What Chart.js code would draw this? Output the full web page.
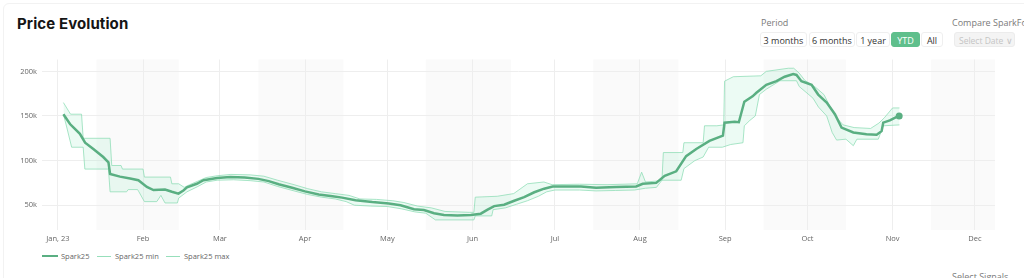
<!DOCTYPE html>
<html><head><meta charset="utf-8">
<script src="https://cdn.jsdelivr.net/npm/chart.js@4.4.0/dist/chart.umd.min.js"></script>
<style>
html,body{margin:0;padding:0;background:#fff;width:1024px;height:278px;overflow:hidden;font-family:"Open Sans",sans-serif;}
.card{position:absolute;left:3px;top:3px;width:1040px;height:300px;border:1px solid #f2f2f2;border-radius:6px;box-sizing:border-box;}
.title{position:absolute;left:17px;top:14px;font:700 15px Inter,"Noto Sans",sans-serif;color:#151515;letter-spacing:0.1px;}
.lbl{position:absolute;font-size:9px;color:#7a7a7a;white-space:nowrap;}
.btn{position:absolute;top:32px;height:15px;line-height:15px;font-size:9px;color:#333;text-align:center;border:1px solid #efefef;border-radius:3px;box-sizing:border-box;background:#fff;}
.btn.on{background:#5fbf8c;color:#fff;border-color:#5fbf8c;}
.sel{position:absolute;left:954px;top:32px;width:61px;height:15px;line-height:15px;font-size:8.5px;color:#c4c4c4;background:#f4f4f4;border:1px solid #ececec;border-radius:3px;box-sizing:border-box;padding-left:4px;white-space:nowrap;overflow:hidden;}
#wrap{position:absolute;left:0;top:50px;width:999px;height:200px;}
.legend{position:absolute;top:251px;left:0;height:10px;font-size:7.5px;color:#666;}
.li{position:absolute;top:0;height:10px;line-height:10px;white-space:nowrap;}
</style></head>
<body>
<div class="card"></div>
<div class="title">Price Evolution</div>
<div class="lbl" style="left:761px;top:16px;">Period</div>
<div class="btn" style="left:760px;width:47px;">3 months</div>
<div class="btn" style="left:809px;width:46px;">6 months</div>
<div class="btn" style="left:856px;width:34px;">1 year</div>
<div class="btn on" style="left:891px;width:29px;">YTD</div>
<div class="btn" style="left:921px;width:22px;">All</div>
<div class="lbl" style="left:952px;top:16px;">Compare SparkFo</div>
<div class="sel">Select Date ∨</div>
<div class="lbl" style="left:952px;top:270px;">Select Signals</div>
<div id="wrap"><canvas id="c"></canvas></div>
<div class="legend" id="legend"></div>
<script>
// ---- data (x = day of year 2023, 0 = Jan 1; values in thousands) ----
const mainDays = [2,4.4,6,8,9.9,12.9,16.5,18.4,19,22.6,26.3,29.3,32.4,34.8,39,41.5,43.9,45.7,47,50.6,53,58,62.8,68,73,76.8,80.4,85.3,90,95,100,103.5,108.4,114.5,120.5,124.8,129.7,133.3,137,140.6,145.5,150.4,154,156.5,158.9,162.5,166.2,169.8,173.5,177.1,180.2,185.6,190.5,196,203.3,210.6,213,217.9,221,225.2,228.8,232.5,237.3,242.2,242.8,246.5,248,250,253,254.4,258,261.7,264.7,267.8,269,270.8,274.5,276.9,280,283,285.4,289.7,294.5,298.2,300,300.6,303,305.5,306.4];
const mainVals = [152,141,136,130,120,113,104,98,85,82,80,78,70.5,67,67.5,65,63,66.5,70,74,78,80.5,81.5,81,79.5,77,73.5,69.5,65.5,62,60,58.5,55.5,53.5,52,50,45.5,44.5,41,39,38.5,39,40.5,45,49,50.5,55,59,64.5,68.5,71,71,71,69.5,70.5,71,74,75,83,88,105,113,122,128,142.5,143.5,143,166,172,176,185,189,194,197,196,189,185,174,165,152,137,131.5,129.5,129,133,142.5,145,149,150];

const minDays = [2,3,5,9.2,9.8,18.4,19,25,25.6,29,29.5,31.5,36,37.5,39,43.5,44,47,51,54,58,64,70,75,80,86,91,96,101,105,108,114,120,125,130,134,137.5,151.5,152,158,158.5,163,167,171,175,178,181,190,196,203,210,214,218,220,227,228,232,235,237,242,245,249.5,250,252,254,255.5,258,263,269,270,275,277,280,282,283.6,287,289.7,291,298.8,300.6,306.5];
const minVals = [152,140,115,115,90.5,90.5,65,65,67.5,67.5,65,54,54,61,52.5,52.5,58,65,71,76,78,78.5,77.5,76,71,66,62,59,57,54,50,49,48.5,46,42.5,41,33.5,33.5,38,38,45,47,51,55,60,65,67,67,66,66.5,67,69,70,78,78,91,100,104,115,115,118,120,139,145,150,174,180,189.5,189.5,183,170,160,150,131.5,123,124,116.7,124,124,139,140];

const maxDays = [2,4.6,8.6,9.2,19,19.6,23,23.5,31,31.5,41,41.5,44,46,48,51,54,58,63,70,75,80,86,91,96,101,106,110,116,122,126,131,136,141,150,151.5,152,160,166,171,177,180,190,200,211,212.6,214,218,220,220.5,227.6,228,235,235.5,240,242.5,242.8,246,256,258,266,268,270,272,276,279,283,286,290,296,299,301,304,306.5];
const maxVals = [165,152,152,125,125,94.5,94.5,90.5,90.5,81.5,81.5,74,74,70,73,77,81,83,84.5,84,82.5,78,73,68.5,65,63,61,57,56.5,55,53,49,47,43,42,42,59,60,63,74,76,73,73.5,73,74,87,76,77,78,109,109,120,120,139,139,140,189,194,195,200,203.5,203.5,198,190,182,174,150,140,137,136,142,148,159,159];

const monthDays = [0,31,59,90,120,151,181,212,243,273,304,334];
const monthLabels = ['Jan, 23','Feb','Mar','Apr','May','Jun','Jul','Aug','Sep','Oct','Nov','Dec'];
const yTicks = [50000,100000,150000,200000];
const yTickLabels = ['50k','100k','150k','200k'];
const bandStarts = [14,73,134,195,257,318];
const bandEnds = [44,104,165,226,287,348];
const seriesNames = ['Spark25','Spark25 min','Spark25 max'];

const toPts = (d,v)=>d.map((x,i)=>({x:x,y:v[i]*1000}));
const mainColor = '#5aaf82';
const edgeColor = 'rgba(140,220,180,0.75)';

const bandPlugin = {
  id:'bands',
  beforeDraw(chart){
    const {ctx, chartArea:a, scales:{x}} = chart;
    ctx.save(); ctx.fillStyle='#fafafa';
    bandStarts.forEach((s,i)=>{
      const x0=Math.max(x.getPixelForValue(s),a.left);
      const x1=Math.min(x.getPixelForValue(bandEnds[i]),a.right);
      if(x1>x0) ctx.fillRect(x0,a.top,x1-x0,a.bottom-a.top);
    });
    ctx.restore();
  }
};

const datasets = [
  {label:seriesNames[0],data:toPts(mainDays,mainVals),borderColor:mainColor,backgroundColor:mainColor,borderWidth:2.5,fill:false,tension:0,
   pointRadius:c=>c.dataIndex===mainDays.length-1?3.5:0,pointBackgroundColor:mainColor,pointBorderWidth:0},
  {label:seriesNames[1],data:toPts(minDays,minVals),borderColor:edgeColor,borderWidth:1,pointRadius:0,fill:false,tension:0},
  {label:seriesNames[2],data:toPts(maxDays,maxVals),borderColor:edgeColor,borderWidth:1,pointRadius:0,tension:0,
   fill:{target:1},backgroundColor:'rgba(150,235,195,0.18)'}
];

const font = {family:'"Open Sans", sans-serif',size:7.5};
const chart = new Chart(document.getElementById('c'),{
  type:'line',
  data:{datasets:datasets},
  plugins:[bandPlugin],
  options:{
    responsive:true,maintainAspectRatio:false,animation:false,
    layout:{padding:{top:8,right:0,left:0,bottom:0}},
    plugins:{legend:{display:false},tooltip:{enabled:false}},
    scales:{
      x:{type:'linear',min:-5.8,max:341.3,
        afterBuildTicks:s=>{s.ticks=monthDays.map(v=>({value:v}));},
        afterFit:s=>{s.height=20;},
        grid:{color:'#eeeeee',drawTicks:false,lineWidth:1},border:{display:false},
        ticks:{padding:4,font:font,color:'#666',maxRotation:0,autoSkip:false,
          callback:(v,i)=>monthLabels[i]}},
      y:{min:22200,max:213300,
        afterBuildTicks:s=>{s.ticks=yTicks.map(v=>({value:v}));},
        afterFit:s=>{s.width=42;},
        grid:{color:'#eeeeee',drawTicks:false},border:{display:false},
        ticks:{padding:5,font:font,color:'#666',callback:(v,i)=>yTickLabels[i]}}
    }
  }
});

// HTML legend built from the datasets
const legendPos = [[42,16,61],[97,14,115],[166,14,184]];
const lg = document.getElementById('legend');
datasets.forEach((d,i)=>{
  const [lx,lw,tx]=legendPos[i];
  const el=document.createElement('div'); el.className='li'; el.style.left=lx+'px';
  const ln=document.createElement('span');
  ln.style.cssText='position:absolute;left:0;top:'+(5-d.borderWidth/2)+'px;width:'+lw+'px;height:'+d.borderWidth+'px;background:'+(i===0?mainColor:'rgba(140,220,180,0.9)');
  const t=document.createElement('span'); t.textContent=d.label; t.style.cssText='position:absolute;left:'+(tx-lx)+'px;top:0;';
  el.appendChild(ln); el.appendChild(t); lg.appendChild(el);
});
</script>
</body></html>
